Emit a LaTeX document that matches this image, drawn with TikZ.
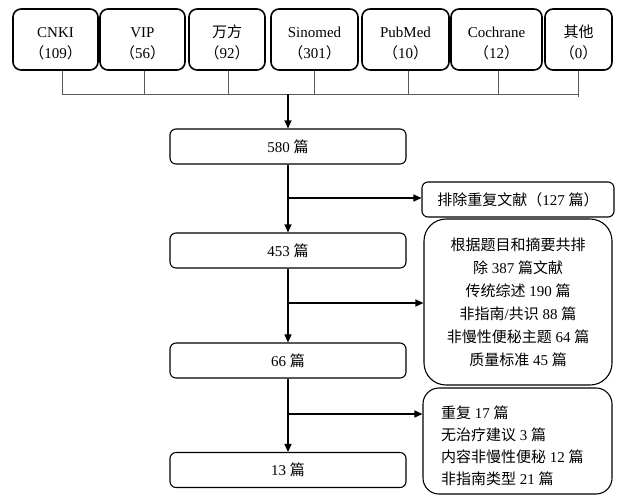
\documentclass[tikz,border=0pt]{standalone}
\usepackage{fontspec}
\setmainfont{Liberation Serif}
\newfontfamily\cjkf{Noto Sans CJK SC}
\newcommand\zhx[1]{{\cjkf #1}}
\usetikzlibrary{arrows.meta}
\begin{document}
\begin{tikzpicture}[x=1pt,y=-1pt,
  dbbox/.style={draw=black, line width=1.6pt, rounded corners=8pt, minimum height=61pt,
    inner sep=0pt, align=center, text height=40pt, text depth=3pt,
    font=\fontsize{15}{21}\selectfont},
  stepbox/.style={draw=black, line width=1.1pt, rounded corners=6pt, minimum width=236pt,
    minimum height=35pt, inner sep=0pt, font=\fontsize{15}{18}\selectfont},
  sidebox/.style={draw=black, line width=1.1pt, inner sep=0pt},
  conn/.style={draw=black!65, line width=0.9pt},
  arr/.style={draw=black, line width=1.3pt, -{Triangle[length=8pt,width=7pt]}},
]
\useasboundingbox (0,0) rectangle (617,496);

% database boxes
\node[dbbox, minimum width=85pt] (cnki) at (55.5,39.5) {CNKI\\\zhx{（}109\zhx{）}};
\node[dbbox, minimum width=85pt] (vip) at (142.5,39.5) {VIP\\\zhx{（}56\zhx{）}};
\node[dbbox, minimum width=76pt] (wf) at (227,39.5) {\zhx{万方}\\\zhx{（}92\zhx{）}};
\node[dbbox, minimum width=87pt] (sino) at (314.5,39.5) {Sinomed\\\zhx{（}301\zhx{）}};
\node[dbbox, minimum width=87pt] (pub) at (405.5,39.5) {PubMed\\\zhx{（}10\zhx{）}};
\node[dbbox, minimum width=91pt] (coch) at (496.5,39.5) {Cochrane\\\zhx{（}12\zhx{）}};
\node[dbbox, minimum width=67pt] (qt) at (578.5,39.5) {\zhx{其他}\\\zhx{（}0\zhx{）}};

\coordinate (hl) at (0,94);
\coordinate (hub) at (288,94);
\draw[conn] ([xshift=6.5pt]cnki.south) -- ([xshift=6.5pt]cnki.south |- hl) coordinate (hlL);
\draw[conn] ([xshift=1.5pt]vip.south) -- ([xshift=1.5pt]vip.south |- hl);
\draw[conn] ([xshift=1pt]wf.south) -- ([xshift=1pt]wf.south |- hl);
\draw[conn] (sino.south) -- (sino.south |- hl);
\draw[conn] ([xshift=2.5pt]pub.south) -- ([xshift=2.5pt]pub.south |- hl);
\draw[conn] ([xshift=1.5pt]coch.south) -- ([xshift=1.5pt]coch.south |- hl);
\draw[conn] (qt.south) -- ([yshift=-3pt]qt.south |- hl);
\draw[conn] (hlL) -- (qt.south |- hl);

% main flow
\node[stepbox] (b580) at (288,146.5) {580 \zhx{篇}};
\node[stepbox] (b453) at (288,250.5) {453 \zhx{篇}};
\node[stepbox] (b66) at (288,360.5) {66 \zhx{篇}};
\node[stepbox] (b13) at (288,470) {13 \zhx{篇}};

\draw[arr] (hub) -- (b580.north);
\draw[arr] (b580.south) -- (b453.north);
\draw[arr] (b453.south) -- (b66.north);
\draw[arr] (b66.south) -- (b13.north);

% side boxes
\node[sidebox, rounded corners=6pt, minimum width=192pt, minimum height=35pt,
  font=\fontsize{15}{18}\selectfont] (r1) at (518,199.5)
  {\zhx{排除重复文献（}127 \zhx{篇）}};
\node[sidebox, rounded corners=22pt, minimum width=188pt, minimum height=166pt,
  align=center, font=\fontsize{15}{23}\selectfont] (r2) at (518,302)
  {\zhx{根据题目和摘要共排}\\\zhx{除} 387 \zhx{篇文献}\\\zhx{传统综述} 190 \zhx{篇}\\
   \zhx{非指南}/\zhx{共识} 88 \zhx{篇}\\\zhx{非慢性便秘主题} 64 \zhx{篇}\\\zhx{质量标准} 45 \zhx{篇}};
\node[sidebox, rounded corners=16pt, minimum width=189pt, minimum height=106pt] (r3) at (517.5,441) {};
\node[anchor=west, align=left, inner sep=0pt, font=\fontsize{15}{22}\selectfont] (r3t) at (441,446)
  {\zhx{重复} 17 \zhx{篇}\\\zhx{无治疗建议} 3 \zhx{篇}\\\zhx{内容非慢性便秘} 12 \zhx{篇}\\\zhx{非指南类型} 21 \zhx{篇}};

\coordinate (j1) at (288,198);
\coordinate (j2) at (288,303);
\coordinate (j3) at (288,414);
\draw[arr] (j1) -- (j1 -| r1.west);
\draw[arr] (j2) -- (j2 -| r2.west);
\draw[arr] (j3) -- (j3 -| r3.west);
\end{tikzpicture}
\end{document}
